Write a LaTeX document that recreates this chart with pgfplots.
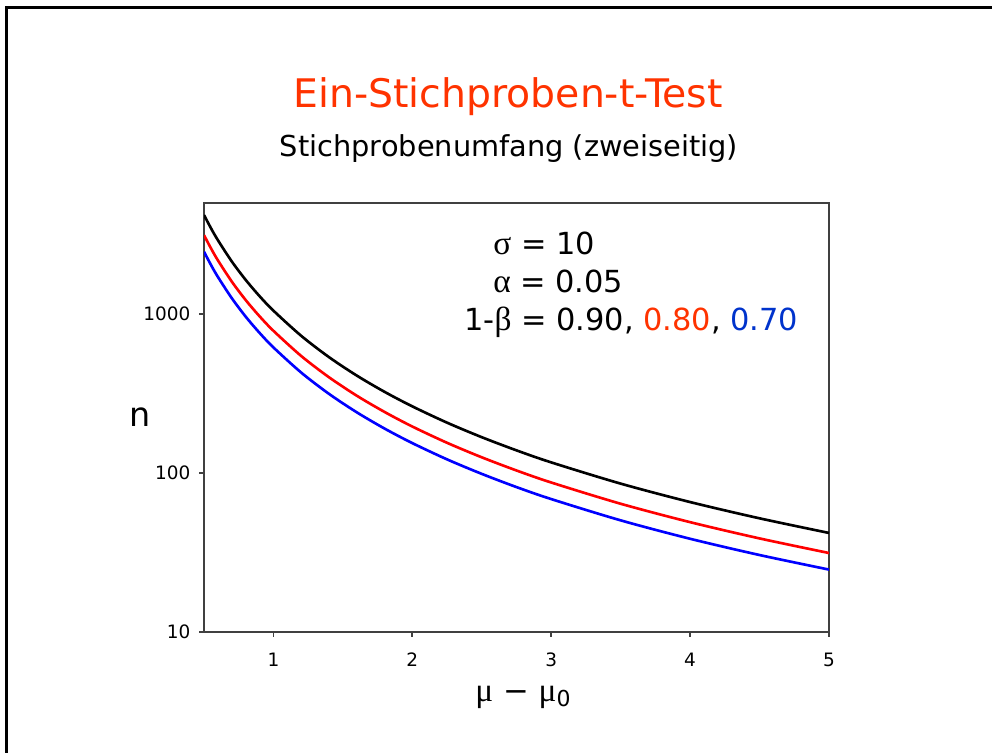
\documentclass[border=0pt]{standalone}
\usepackage{fontspec}
\setmainfont{DejaVu Sans}
\newfontfamily\grk{Liberation Serif}
\usepackage{pgfplots}
\pgfplotsset{compat=1.18}
\definecolor{titlered}{HTML}{FF3300}
\definecolor{annblue}{HTML}{0033CC}
\definecolor{axisgray}{HTML}{404040}

% sample size n against mu - mu0 for power 0.90 / 0.80 / 0.70
\pgfplotstableread{
d     p90    p80    p70
0.50  4203   3140   2469
0.55  3473   2595   2040
0.60  2919   2180   1714
0.70  2144   1602   1260
0.80  1642   1226   964
0.90  1297   969    762
1.00  1051   785    617
1.20  730    545    428.6
1.40  536.1  400.5  314.9
1.60  410.4  306.6  241.1
1.80  324.3  242.3  190.5
2.00  262.7  196.2  154.3
2.25  207.5  155.0  121.9
2.50  168.1  125.6  98.8
2.75  138.9  103.8  81.6
3.00  116.7  87.2   68.6
3.50  85.8   64.1   50.4
4.00  65.7   49.1   38.6
4.50  51.9   38.8   30.5
5.00  42.0   31.4   24.7
}\ssdata

\begin{document}
\begin{tikzpicture}
% page box and slide frame
\path[use as bounding box] (-4.08,-2.4) rectangle (15.76,12.64);
\draw[line width=1.7pt, black] (-3.95,-2.5) -- (-3.95,12.49) -- (15.9,12.49);

\begin{axis}[
  scale only axis, width=12.5cm, height=8.58cm,
  xmin=0.5, xmax=5, ymode=log, ymin=10, ymax=5000,
  xtick={1,2,3,4,5}, ytick={10,100,1000}, yticklabels={10,100,1000},
  yminorticks=false,
  tick pos=left, tick align=outside, major tick length=0.1cm,
  axis line style={axisgray, line width=1.1pt},
  tick style={axisgray, line width=1pt},
  /pgf/number format/assume math mode=true,
  tick label style={font=\fontsize{10.5}{12}\selectfont},
  xticklabel style={yshift=-0.2cm},
  yticklabel style={xshift=-0.05cm},
]
\addplot[black, line width=1.5pt, smooth] table[x=d, y=p90] {\ssdata};
\addplot[red, line width=1.5pt, smooth] table[x=d, y=p80] {\ssdata};
\addplot[blue, line width=1.5pt, smooth] table[x=d, y=p70] {\ssdata};
\end{axis}

\node[anchor=base, text=titlered, font=\fontsize{22.4}{26}\selectfont] at (6.08,10.48) {Ein-Stichproben-t-Test};
\node[anchor=base, font=\fontsize{16.4}{19}\selectfont] at (6.1,9.5) {Stichprobenumfang (zweiseitig)};

\node[anchor=base west, inner sep=0pt, font=\fontsize{17.3}{20}\selectfont] at (5.78,7.55) {{\grk\fontsize{19}{20}\selectfont σ} = 10};
\node[anchor=base west, inner sep=0pt, font=\fontsize{17.3}{20}\selectfont] at (5.78,6.78) {{\grk\fontsize{19}{20}\selectfont α} = 0.05};
\node[anchor=base west, inner sep=0pt, font=\fontsize{17.3}{20}\selectfont] at (5.2,6.03) {1-{\grk\fontsize{19}{20}\selectfont β} = 0.90, \textcolor{titlered}{0.80}, \textcolor{annblue}{0.70}};

\node[font=\fontsize{19}{22}\selectfont] at (-1.28,4.3) {n};
\node[anchor=base, font=\fontsize{17.5}{20}\selectfont] at (6.38,-1.38) {{\grk\fontsize{19}{20}\selectfont μ} − {\grk\fontsize{19}{20}\selectfont μ}\raisebox{-0.35ex}{\fontsize{12.5}{14}\selectfont 0}};
\end{tikzpicture}
\end{document}
